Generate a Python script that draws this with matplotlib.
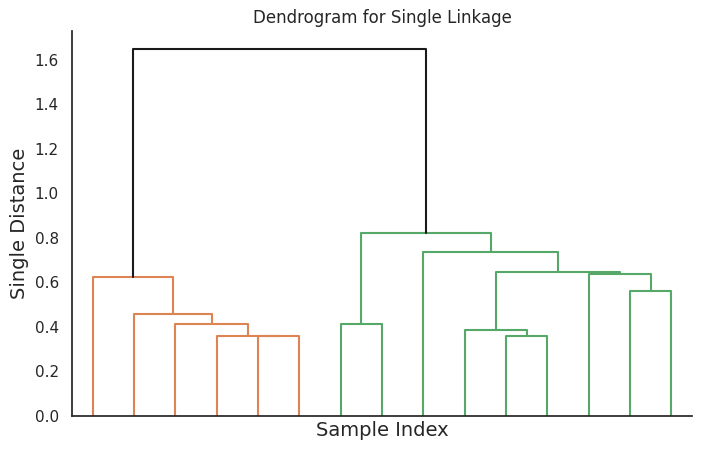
"""Single-linkage dendrogram, drawn by hand from a linkage table."""

import matplotlib
matplotlib.use("Agg")
import matplotlib.pyplot as plt
import seaborn as sns

sns.set_theme(style="white")

N_LEAVES = 15
# merges in order; ids < N_LEAVES are leaves (in display order), others are
# earlier merges (N_LEAVES + merge index), like a scipy linkage matrix
left_child = [4, 3, 10, 9, 2, 6, 1, 13, 0, 12, 18, 8, 20, 23]
right_child = [5, 15, 11, 17, 16, 7, 19, 14, 21, 22, 24, 25, 26, 27]
heights = [0.357, 0.358, 0.359, 0.386, 0.413, 0.413, 0.458, 0.559,
           0.625, 0.636, 0.648, 0.738, 0.823, 1.648]
cluster_colors = ["C1", "C2"]
color_threshold = 0.7 * max(heights)


def node_pos(node, xs, ys):
    """x position and height of a node (leaves sit at 5, 15, 25, ...)."""
    if node < N_LEAVES:
        return 10 * node + 5, 0.0
    return xs[node - N_LEAVES], ys[node - N_LEAVES]


def leaves_of(node):
    if node < N_LEAVES:
        return [node]
    i = node - N_LEAVES
    return leaves_of(left_child[i]) + leaves_of(right_child[i])


xs, ys = [], []
for a, b, h in zip(left_child, right_child, heights):
    xa, _ = node_pos(a, xs, ys)
    xb, _ = node_pos(b, xs, ys)
    xs.append((xa + xb) / 2)
    ys.append(h)

# colour each cluster that forms below the threshold
link_color = {}
k = 0
for i in reversed(range(len(heights))):
    node = N_LEAVES + i
    if heights[i] >= color_threshold or node in link_color:
        continue
    c = cluster_colors[k % len(cluster_colors)]
    k += 1
    stack = [node]
    while stack:
        n = stack.pop()
        if n >= N_LEAVES:
            link_color[n] = c
            stack += [left_child[n - N_LEAVES], right_child[n - N_LEAVES]]
# order colors left-to-right like scipy
order = sorted({v for v in link_color.values()},
               key=lambda c: min(min(leaves_of(n)) for n, v in link_color.items() if v == c))
remap = {old: cluster_colors[j] for j, old in enumerate(order)}

fig = plt.figure(figsize=(7.02, 4.51), dpi=100)
ax = fig.add_axes([72 / 702, 1 - 415.5 / 451, 620 / 702, 384.5 / 451])

for i, (a, b, h) in enumerate(zip(left_child, right_child, heights)):
    xa, ya = node_pos(a, xs, ys)
    xb, yb = node_pos(b, xs, ys)
    color = remap.get(link_color.get(N_LEAVES + i), "k")
    ax.plot([xa, xa, xb, xb], [ya, h, h, yb], color=color, lw=1.5)

ax.set_xlim(0, 10 * N_LEAVES)
ax.set_ylim(0, max(heights) * 1.05)
ax.set_xticks([])
ax.tick_params(axis="y", labelsize=11)
ax.set_title("Dendrogram for Single Linkage", fontsize=12)
ax.set_xlabel("Sample Index", fontsize=14)
ax.set_ylabel("Single Distance", fontsize=14)
for s in ["left", "bottom"]:
    ax.spines[s].set_color("#262626")
    ax.spines[s].set_linewidth(1.25)
sns.despine(ax=ax)

fig.savefig("out.png", dpi=100)
